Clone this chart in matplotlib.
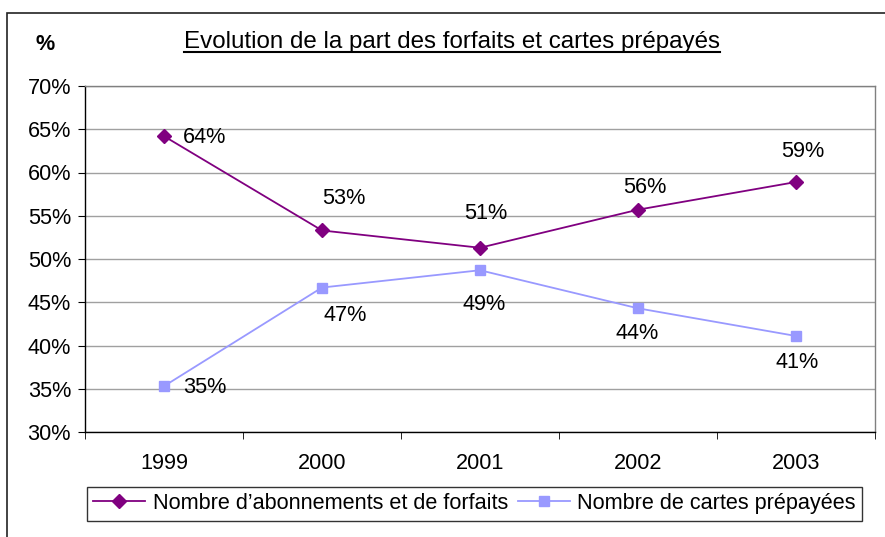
import matplotlib
matplotlib.use("Agg")
import matplotlib.pyplot as plt
from matplotlib.patches import Rectangle
from matplotlib.lines import Line2D
from matplotlib.ticker import FixedLocator, NullFormatter

plt.rcParams['font.family'] = ['Liberation Sans', 'DejaVu Sans']

years = ["1999", "2000", "2001", "2002", "2003"]
forfaits = [64.2, 53.3, 51.3, 55.7, 58.9]
cartes = [35.3, 46.7, 48.7, 44.3, 41.1]
forfaits_labels = ["64%", "53%", "51%", "56%", "59%"]
cartes_labels = ["35%", "47%", "49%", "44%", "41%"]
yticks = [30, 35, 40, 45, 50, 55, 60, 65, 70]
series_names = ["Nombre d\u2019abonnements et de forfaits", "Nombre de cartes prépayées"]
title = "Evolution de la part des forfaits et cartes prépayés"

# label offsets in pixels (dx right, dy down)
off1 = [(41, 1), (22, -32), (6, -34), (7, -22), (7, -31)]
off2 = [(41, 1), (23, 28), (4, 34), (-1, 25), (1, 27)]

W, H = 885, 537
fig = plt.figure(figsize=(W / 100, H / 100), dpi=100)
fs = 15.6
tfs = 17.4

# outer frame
fig.patches.append(Rectangle((7 / W, -0.02), 1.05, 1 - 13 / H + 0.02, transform=fig.transFigure,
                             fill=False, edgecolor='#222222', linewidth=1.2))

ax = fig.add_axes([85 / W, 1 - 432 / H, 790 / W, 346 / H])
x = list(range(len(years)))
c1 = '#800080'
c2 = '#9999FF'
l1, = ax.plot(x, forfaits, color=c1, marker='D', markersize=7.5, linewidth=1.3, zorder=3)
l2, = ax.plot(x, cartes, color=c2, marker='s', markersize=7.5, linewidth=1.3, zorder=3)

for xi, v, lab, (dx, dy) in zip(x, forfaits, forfaits_labels, off1):
    ax.annotate(lab, (xi, v), xytext=(dx * 0.72, -dy * 0.72), textcoords='offset points',
                ha='center', va='center', fontsize=fs)
for xi, v, lab, (dx, dy) in zip(x, cartes, cartes_labels, off2):
    ax.annotate(lab, (xi, v), xytext=(dx * 0.72, -dy * 0.72), textcoords='offset points',
                ha='center', va='center', fontsize=fs)

ax.set_xlim(-0.5, len(years) - 0.5)
ax.set_ylim(30, 70)
ax.set_yticks(yticks)
ax.set_yticklabels([f"{t}%" for t in yticks], fontsize=fs)
ax.yaxis.grid(True, color='#a0a0a0', linewidth=1.0)
ax.set_axisbelow(True)

# x: labels centered at categories, ticks at boundaries
ax.set_xticks(x)
ax.set_xticklabels(years, fontsize=fs)
ax.tick_params(axis='x', which='major', length=0, pad=15)
ax.xaxis.set_minor_locator(FixedLocator([i - 0.5 for i in range(len(years) + 1)]))
ax.xaxis.set_minor_formatter(NullFormatter())
ax.tick_params(axis='x', which='minor', length=5, direction='out', color='black')
ax.tick_params(axis='y', length=5, direction='out', pad=5, color='black')

for s in ['left', 'bottom']:
    ax.spines[s].set_color('black')
    ax.spines[s].set_linewidth(1.0)
for s in ['top', 'right']:
    ax.spines[s].set_color('#808080')
    ax.spines[s].set_linewidth(1.0)

# title with underline
t = fig.text(452 / W, 1 - 42 / H, title, ha='center', va='center', fontsize=tfs)
fig.text(45 / W, 1 - 45 / H, "%", ha='center', va='center', fontsize=fs, fontweight='bold')
fig.canvas.draw()
bb = t.get_window_extent(renderer=fig.canvas.get_renderer())
uy = (bb.y0 + 1) / H
fig.add_artist(Line2D([bb.x0 / W, bb.x1 / W], [uy, uy], transform=fig.transFigure,
                      color='black', linewidth=1.5))

leg = fig.legend([l1, l2], series_names, loc='center', bbox_to_anchor=(474.5 / W, 1 - 503.5 / H),
                 ncol=2, fontsize=fs, frameon=True, fancybox=False, handlelength=2.4,
                 handletextpad=0.35, columnspacing=0.45, borderpad=0.3, borderaxespad=0)
leg.get_frame().set_edgecolor('black')
leg.get_frame().set_linewidth(1.0)

fig.savefig("out.png", dpi=100)
